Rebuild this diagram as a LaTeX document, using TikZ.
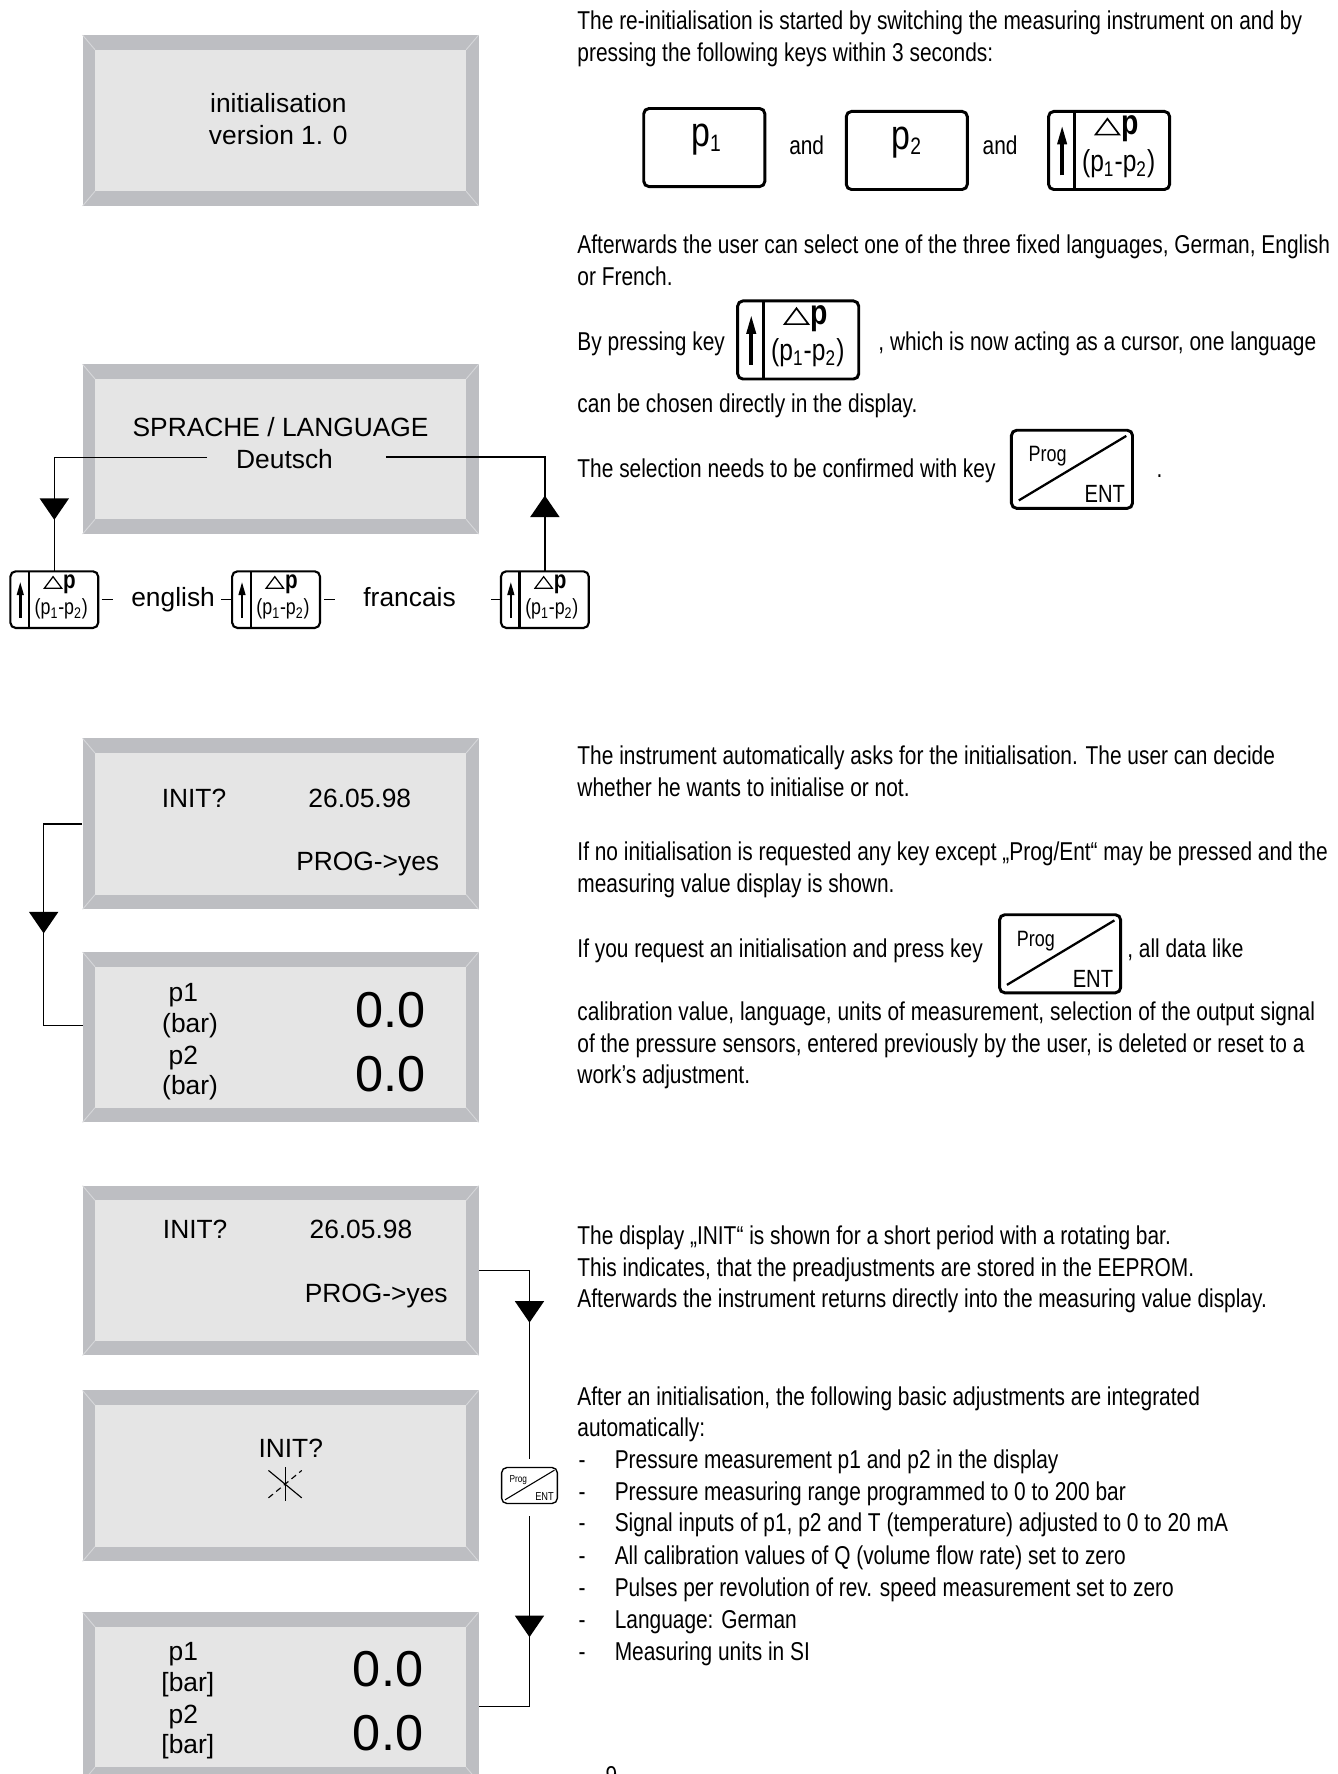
\documentclass[tikz,border=0pt]{standalone}
\usepackage{fontspec}
\setmainfont{Liberation Sans}
\newfontfamily\bodyfont[FakeStretch=0.81]{Liberation Sans}
\usetikzlibrary{fit}
\definecolor{bevel}{RGB}{189,190,194}
\definecolor{face}{RGB}{229,229,229}
\definecolor{bevelhl}{RGB}{214,215,218}
\tikzset{
  body/.style={anchor=base west, inner sep=0, font=\bodyfont\fontsize{11.4}{14}\selectfont},
  disp/.style={anchor=base, inner sep=0, font=\fontsize{11.65}{14}\selectfont},
  bignum/.style={anchor=base, inner sep=0, font=\fontsize{22.3}{26}\selectfont},
  conn/.style={line width=0.65pt},
  keybox/.style={draw, fill=white, line width=1.3pt, rounded corners=2.3pt, inner sep=0,
    minimum width=53.5pt, minimum height=34.5pt},
}
% display with bevelled frame
\newcommand\lcd[5]{%
  \fill[bevel] (#2,#3) rectangle (#4,#5);
  \fill[face] (#2+11,#3+13) rectangle (#4-11,#5-13);
  \draw[bevelhl, line width=0.4pt] (#2,#3) -- (#2+11,#3+13) (#4,#3) -- (#4-11,#3+13)
     (#2,#5) -- (#2+11,#5-13) (#4,#5) -- (#4-11,#5-13);
  \node[fit={(#2,#3) (#4,#5)}, inner sep=0] (#1) {};
}
% delta-p cursor key
\newcommand\dpkey[4]{%
  \begin{scope}[shift={(#2,#3)}, scale=#4, transform shape]
    \pgfmathsetlengthmacro\klw{1.3pt*#4}%
    \pgfmathsetlengthmacro\alw{1.6pt*#4}%
    \pgfmathsetlengthmacro\tlw{0.75pt*#4}%
    \node[keybox, line width=\klw] (#1) at (0,0) {};
    \draw[line width=\klw] (-31,-34.5) -- (-31,34.5);
    \draw[line width=\alw] (-41.5,22) -- (-41.5,-8);
    \fill (-41.5,-21) -- (-46,-5.5) -- (-37,-5.5) -- cycle;
    \draw[line width=\tlw, line join=miter] (-12,-14) -- (9,-14) -- (-1.5,-28) -- cycle;
    \node[anchor=base west, inner sep=0, font=\bodyfont\bfseries\fontsize{15.5}{15}\selectfont] (#1p) at (10.5,-14) {p};
    \node[anchor=base, inner sep=0, font=\bodyfont\fontsize{13.4}{15}\selectfont] (#1s) at (8.5,18.4) {(p\textsubscript{1}-p\textsubscript{2})};
  \end{scope}}
% Prog/ENT key
\newcommand\progkey[4]{%
  \begin{scope}[shift={(#2,#3)}, scale=#4, transform shape]
    \pgfmathsetlengthmacro\klw{1.3pt*#4}%
    \pgfmathsetlengthmacro\dlw{1pt*#4}%
    \node[keybox, line width=\klw] (#1) at (0,0) {};
    \draw[line width=\dlw] (-47,27.5) -- (48,-29.5);
    \node[anchor=base, inner sep=0, font=\bodyfont\fontsize{9.8}{10}\selectfont] (#1p) at (-21.5,-6.5) {Prog};
    \node[anchor=base, inner sep=0, font=\bodyfont\fontsize{11}{11}\selectfont] (#1e) at (29,29.5) {ENT};
  \end{scope}}
\newcommand\downtri[2]{\fill (#1-13,#2) -- (#1+13,#2) -- (#1,#2+19) -- cycle;}
\newcommand\uptri[2]{\fill (#1-13,#2) -- (#1+13,#2) -- (#1,#2-19) -- cycle;}
\newcommand\pkeylabel[1]{p\raisebox{-2.2pt}{\fontsize{10.5}{11}\selectfont #1}}

\begin{document}
\begin{tikzpicture}[x=0.5pt, y=-0.5pt]
\fill[white] (0,0) rectangle (1182,1568);
\useasboundingbox (0,0) rectangle (1182,1568);

% ---------------- displays ----------------
\lcd{d1}{73}{31}{423}{182}
\node[disp] (d1a) at (246,99.6) {initialisation};
\node[disp] (d1b) at (246,127.3) {version 1. 0};

\lcd{d2}{73}{322}{423}{472}
\node[disp] (d2a) at (248,386) {SPRACHE / LANGUAGE};
\node[disp] (deutsch) at (251.5,413.8) {Deutsch};

\lcd{d3}{73}{652.6}{423}{803.7}
\node[disp] (d3a) at (171.5,714) {INIT?};
\node[disp] (d3b) at (318,714) {26.05.98};
\node[disp] (d3c) at (325,769) {PROG->yes};

\lcd{d4}{73}{841.5}{423}{992}
\node[disp] (d4a) at (162,885.6) {p1};
\node[disp] (d4b) at (168,912.5) {(bar)};
\node[disp] (d4c) at (162,941) {p2};
\node[disp] (d4d) at (168,967) {(bar)};
\node[bignum] (d4e) at (345,908) {0.0};
\node[bignum] (d4f) at (345,965) {0.0};

\lcd{d5}{73}{1048}{423}{1198}
\node[disp] (d5a) at (172.5,1095) {INIT?};
\node[disp] (d5b) at (319,1095) {26.05.98};
\node[disp] (d5c) at (332.5,1151) {PROG->yes};

\lcd{d6}{73}{1229}{423}{1380}
\node[disp] (d6a) at (257,1288) {INIT?};
\draw[line width=0.5pt] (252,1297) -- (252,1327);
\draw[line width=0.5pt] (237.3,1299.7) -- (266.7,1323.9);
\draw[line width=0.5pt, dash pattern=on 2.6pt off 1.8pt] (237.3,1323.9) -- (266.7,1299.7);

\lcd{d7}{73}{1425}{423}{1575}
\node[disp] (d7a) at (162,1468) {p1};
\node[disp] (d7b) at (166,1495) {[bar]};
\node[disp] (d7c) at (162,1523) {p2};
\node[disp] (d7d) at (166,1550) {[bar]};
\node[bignum] (d7e) at (343,1491) {0.0};
\node[bignum] (d7f) at (343,1547) {0.0};

% ---------------- language selection row ----------------
\dpkey{k1}{48}{530}{0.725}
\dpkey{k2}{244}{530}{0.725}
\dpkey{k3}{481.6}{530}{0.725}
\node[disp] (english) at (153,536.4) {english};
\node[disp] (francais) at (362,536.4) {francais};
\draw[conn] ([xshift=1.2pt]k1.east) -- ++(10,0);
\draw[conn] (k2.west) -- ++(-9,0);
\draw[conn] ([xshift=1.6pt]k2.east) -- ++(9,0);
\draw[conn] (k3.west) -- ++(-8.5,0);

\coordinate (dl) at (183,404.4);
\coordinate (dr) at (341,403.8);
\draw[conn] (dl) -| (k1.north);
\draw[conn] (dr) -| (k3.north);
\downtri{48}{440.5}
\uptri{481.6}{457}

% ---------------- INIT connector (left) ----------------
\coordinate (d4in) at (73,906.3);
\draw[conn] (d3.west) -| (38.6,906.3) -- (d4in);
\downtri{38.6}{806}

% ---------------- INIT connector (right) ----------------
\progkey{pk}{468}{1313}{0.46}
\coordinate (d7in) at (423,1508.5);
\draw[conn] (d5.east) -| ([yshift=3.5pt]pk.north);
\draw[conn] ([yshift=-5.5pt]pk.south) |- (d7in);
\downtri{468}{1150}
\downtri{468}{1428}

% ---------------- text, top ----------------
\node[body] (t1) at (510,26) {The re-initialisation is started by switching the measuring instrument on and by};
\node[body] (t2) at (510,54) {pressing the following keys within 3 seconds:};

\node[keybox] (kp1) at (622.5,130.4) {};
\node[anchor=base, inner sep=0, font=\bodyfont\fontsize{18.5}{20}\selectfont] (kp1t) at (624,129.7) {\pkeylabel{1}};
\node[body, anchor=base] (and1) at (713,137) {and};
\node[keybox] (kp2) at (801.5,133) {};
\node[anchor=base, inner sep=0, font=\bodyfont\fontsize{18.5}{20}\selectfont] (kp2t) at (801,132.3) {\pkeylabel{2}};
\node[body, anchor=base] (and2) at (884,137) {and};
\dpkey{kdp}{980.3}{133}{1}

\node[body] (t3) at (510,224) {Afterwards the user can select one of the three fixed languages, German, English};
\node[body] (t4) at (510,252) {or French.};
\node[body] (t5) at (510,309.5) {By pressing key};
\dpkey{kdp2}{705.5}{300.5}{1}
\node[body] (t5b) at (776,309.5) {, which is now acting as a cursor, one language};
\node[body] (t6) at (510,365) {can be chosen directly in the display.};
\node[body] (t7) at (510,422) {The selection needs to be confirmed with key};
\progkey{pk1}{947.5}{414.8}{1}
\node[body] (t7b) at (1022,422) {.};

% ---------------- text, middle ----------------
\node[body] (t8) at (510,676) {The instrument automatically asks for the initialisation. The user can decide};
\node[body] (t9) at (510,704) {whether he wants to initialise or not.};
\node[body] (t10) at (510,761) {If no initialisation is requested any key except „Prog/Ent“ may be pressed and the};
\node[body] (t11) at (510,789) {measuring value display is shown.};
\node[body] (t12) at (510,846) {If you request an initialisation and press key};
\progkey{pk2}{937}{843}{1}
\node[body] (t12b) at (996,846) {, all data like};
\node[body] (t13) at (510,902) {calibration value, language, units of measurement, selection of the output signal};
\node[body] (t14) at (510,930) {of the pressure sensors, entered previously by the user, is deleted or reset to a};
\node[body] (t15) at (510,958) {work’s adjustment.};

% ---------------- text, bottom ----------------
\node[body] (t16) at (510,1100) {The display „INIT“ is shown for a short period with a rotating bar.};
\node[body] (t17) at (510,1128) {This indicates, that the preadjustments are stored in the EEPROM.};
\node[body] (t18) at (510,1156) {Afterwards the instrument returns directly into the measuring value display.};
\node[body] (t19) at (510,1242) {After an initialisation, the following basic adjustments are integrated};
\node[body] (t20) at (510,1270) {automatically:};
\foreach \yy/\txt [count=\i] in {
  1298/{Pressure measurement p1 and p2 in the display},
  1326/{Pressure measuring range programmed to 0 to 200 bar},
  1354/{Signal inputs of p1, p2 and T (temperature) adjusted to 0 to 20 mA},
  1383/{All calibration values of Q (volume flow rate) set to zero},
  1411/{Pulses per revolution of rev. speed measurement set to zero},
  1439/{Language: German},
  1468/{Measuring units in SI}}{
  \node[body] (dash\i) at (511,\yy) {-};
  \node[body] (item\i) at (543,\yy) {\txt};
}
\node[body] (pageno) at (535,1577) {9};
\end{tikzpicture}
\end{document}
